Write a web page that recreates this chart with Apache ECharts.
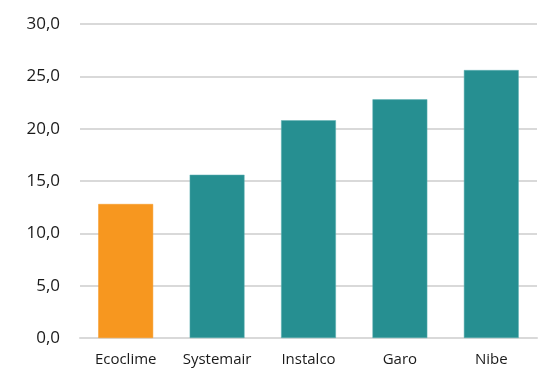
<!DOCTYPE html>
<html>
<head>
<meta charset="utf-8">
<script src="https://cdn.jsdelivr.net/npm/echarts@6/dist/echarts.min.js"></script>
<style>
  html, body { margin: 0; padding: 0; background: #fff; }
  #chart { width: 541px; height: 371px; }
</style>
</head>
<body>
<div id="chart"></div>
<script>
var companies = ['Ecoclime', 'Systemair', 'Instalco', 'Garo', 'Nibe'];
var values = [12.8, 15.6, 20.8, 22.8, 25.6];
var barColors = ['#F7971F', '#268F91', '#268F91', '#268F91', '#268F91'];

var myChart = echarts.init(document.getElementById('chart'));

var option = {
  animation: false,
  grid: { left: 80, right: 4, top: 24, bottom: 33 },
  xAxis: {
    type: 'category',
    data: companies,
    axisLine: { show: true, lineStyle: { color: '#d9d9d9', width: 2 } },
    axisTick: { show: false },
    axisLabel: { color: '#1a1a1a', fontSize: 15, fontFamily: 'Open Sans', margin: 14 }
  },
  yAxis: {
    type: 'value',
    min: 0,
    max: 30,
    interval: 5,
    axisLine: { show: false },
    axisTick: { show: false },
    splitLine: { lineStyle: { color: '#d9d9d9', width: 2 } },
    axisLabel: {
      color: '#1a1a1a', fontSize: 17, fontFamily: 'Open Sans', margin: 20,
      formatter: function (v) { return v.toFixed(1).replace('.', ','); }
    }
  },
  series: [{
    type: 'bar',
    barCategoryGap: '40%',
    data: values.map(function (v, i) {
      return {
        value: v,
        itemStyle: { color: barColors[i], borderColor: i === 0 ? '#F7971F' : '#5fb0b2', borderWidth: 0.5 }
      };
    })
  }]
};
myChart.setOption(option);
</script>
</body>
</html>
